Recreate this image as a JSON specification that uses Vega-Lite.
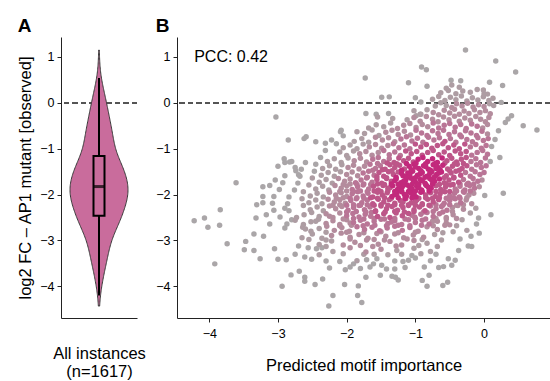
{
"$schema": "https://vega.github.io/schema/vega-lite/v6.json",
"padding": {"left": 17, "top": 17, "right": 0, "bottom": 0},
"bounds": "flush",
"spacing": 40,
"config": {
  "font": "Liberation Sans",
  "view": {"stroke": null},
  "axis": {"grid": false, "domainColor": "#222", "tickColor": "#222", "labelColor": "#000", "titleColor": "#000", "labelFontSize": 12.5, "titleFontSize": 16.5, "titleFontWeight": "normal", "tickSize": 4, "labelPadding": 3},
  "title": {"anchor": "start", "frame": "bounds", "fontSize": 19, "fontWeight": "bold", "offset": 1, "color": "#000"}
},
"datasets": {"pts": [
{"x":-0.27,"y":1.15,"d":0},{"x":0.17,"y":0.91,"d":0},{"x":0.46,"y":0.67,"d":0},{"x":-0.91,"y":0.78,"d":0},{"x":-0.84,"y":0.72,"d":0},{"x":-1.73,"y":0.54,"d":0},{"x":-1.1,"y":0.44,"d":0},{"x":-0.83,"y":0.36,"d":0},{"x":-0.48,"y":0.49,"d":0},{"x":-0.34,"y":0.48,"d":0},{"x":0.08,"y":0.45,"d":0},{"x":0.27,"y":0.38,"d":0},{"x":-1.49,"y":0.12,"d":0},{"x":-1.38,"y":0.13,"d":0},{"x":-1.0,"y":0.11,"d":0},{"x":-0.92,"y":0.02,"d":0},{"x":0.25,"y":0.01,"d":0},
{"x":-0.55,"y":0.32,"d":1},{"x":-0.47,"y":0.39,"d":1},{"x":-0.36,"y":0.34,"d":1},{"x":-0.01,"y":0.28,"d":1},{"x":0.05,"y":0.19,"d":1},
{"x":-3.03,"y":-0.31,"d":0},{"x":-2.85,"y":-0.81,"d":0},{"x":-2.62,"y":-0.78,"d":0},{"x":-2.59,"y":-0.74,"d":0},{"x":-2.45,"y":-0.85,"d":0},{"x":-2.31,"y":-0.88,"d":0},{"x":-2.22,"y":-0.81,"d":0},{"x":-2.09,"y":-0.63,"d":0},{"x":-2.05,"y":-0.72,"d":0},{"x":-1.72,"y":-0.23,"d":0},{"x":-1.57,"y":-0.25,"d":0},{"x":-1.39,"y":-0.23,"d":0},{"x":-2.91,"y":-1.22,"d":0},{"x":-2.8,"y":-1.28,"d":0},{"x":-2.75,"y":-1.41,"d":0},{"x":-2.9,"y":-1.3,"d":0},{"x":-2.74,"y":-1.48,"d":0},{"x":-2.7,"y":-1.57,"d":0},
{"x":-0.99,"y":-0.28,"d":1},{"x":-0.93,"y":-0.25,"d":1},
{"x":0.57,"y":-0.5,"d":0},{"x":0.77,"y":-0.59,"d":0},{"x":0.21,"y":-0.61,"d":0},{"x":0.31,"y":-0.43,"d":0},{"x":0.35,"y":-0.35,"d":0},{"x":0.4,"y":-0.28,"d":0},{"x":0.23,"y":-1.19,"d":0},{"x":0.09,"y":-1.28,"d":0},{"x":0.11,"y":-0.95,"d":0},{"x":0.28,"y":-1.97,"d":0},{"x":0.01,"y":-2.02,"d":0},{"x":0.16,"y":-0.8,"d":0},
{"x":0.1,"y":-2.44,"d":0},{"x":-0.07,"y":-2.84,"d":0},{"x":-0.11,"y":-2.64,"d":0},{"x":-0.08,"y":-2.51,"d":0},{"x":-0.19,"y":-2.91,"d":0},{"x":-0.18,"y":-3.13,"d":0},{"x":-0.23,"y":-3.12,"d":0},{"x":-0.37,"y":-3.22,"d":0},{"x":-0.42,"y":-3.43,"d":0},{"x":-0.47,"y":-3.54,"d":0},{"x":-0.52,"y":-3.4,"d":0},{"x":-0.59,"y":-3.57,"d":0},{"x":-0.66,"y":-3.59,"d":0},{"x":-0.53,"y":-3.91,"d":0},{"x":-0.6,"y":-3.98,"d":0},{"x":-0.8,"y":-3.76,"d":0},{"x":-0.83,"y":-4.0,"d":0},{"x":-0.9,"y":-3.87,"d":0},{"x":-0.87,"y":-3.58,"d":0},{"x":-1.1,"y":-3.43,"d":0},{"x":-1.0,"y":-3.38,"d":0},{"x":-1.05,"y":-3.33,"d":0},
{"x":-1.25,"y":-3.86,"d":0},{"x":-1.29,"y":-3.8,"d":0},{"x":-1.34,"y":-3.78,"d":0},{"x":-1.3,"y":-3.62,"d":0},{"x":-1.42,"y":-3.62,"d":0},{"x":-1.51,"y":-3.76,"d":0},{"x":-1.49,"y":-3.54,"d":0},{"x":-1.56,"y":-3.4,"d":0},{"x":-1.61,"y":-3.51,"d":0},{"x":-1.66,"y":-3.58,"d":0},{"x":-1.71,"y":-3.42,"d":0},{"x":-1.72,"y":-3.8,"d":0},{"x":-1.78,"y":-4.35,"d":0},{"x":-1.83,"y":-3.99,"d":0},{"x":-1.84,"y":-4.2,"d":0},{"x":-1.9,"y":-3.51,"d":0},{"x":-1.95,"y":-3.58,"d":0},{"x":-2.02,"y":-3.64,"d":0},{"x":-2.03,"y":-3.96,"d":0},{"x":-2.2,"y":-4.2,"d":0},{"x":-2.26,"y":-4.43,"d":0},{"x":-2.35,"y":-3.84,"d":0},{"x":-2.46,"y":-3.96,"d":0},{"x":-2.61,"y":-3.8,"d":0},{"x":-2.61,"y":-3.89,"d":0},{"x":-2.69,"y":-3.67,"d":0},{"x":-2.81,"y":-3.75,"d":0},{"x":-2.94,"y":-4.0,"d":0},{"x":-2.61,"y":-3.36,"d":0},{"x":-2.51,"y":-3.41,"d":0},{"x":-2.56,"y":-3.16,"d":0},{"x":-2.44,"y":-3.18,"d":0},{"x":-2.36,"y":-3.16,"d":0},{"x":-2.88,"y":-3.42,"d":0},{"x":-3.0,"y":-3.41,"d":0},{"x":-3.05,"y":-3.18,"d":0},{"x":-3.26,"y":-3.4,"d":0},{"x":-1.75,"y":-3.3,"d":1},{"x":-1.2,"y":-3.3,"d":1},
{"x":-4.22,"y":-2.57,"d":0},{"x":-4.07,"y":-2.51,"d":0},{"x":-4.02,"y":-2.71,"d":0},{"x":-3.84,"y":-2.33,"d":0},{"x":-3.85,"y":-2.67,"d":0},{"x":-3.74,"y":-3.07,"d":0},{"x":-3.92,"y":-3.51,"d":0},{"x":-3.47,"y":-3.02,"d":0},{"x":-3.49,"y":-3.2,"d":0},{"x":-3.35,"y":-2.86,"d":0},{"x":-3.35,"y":-3.22,"d":0},{"x":-3.32,"y":-2.51,"d":0},{"x":-3.31,"y":-2.22,"d":0},{"x":-3.22,"y":-2.04,"d":0},{"x":-3.22,"y":-2.18,"d":0},{"x":-3.22,"y":-1.83,"d":0},{"x":-3.12,"y":-1.8,"d":0},{"x":-3.04,"y":-1.68,"d":0},{"x":-3.17,"y":-2.44,"d":0},{"x":-3.61,"y":-1.74,"d":0},{"x":-3.21,"y":-2.91,"d":0},{"x":-3.12,"y":-2.64,"d":0},
{"x":-0.63,"y":0.22,"d":1},{"x":-0.52,"y":0.27,"d":1},{"x":-0.41,"y":0.2,"d":1},{"x":-0.31,"y":0.26,"d":1},{"x":-0.2,"y":0.23,"d":1},{"x":-0.1,"y":0.29,"d":1},{"x":0.0,"y":0.2,"d":1},
{"x":-0.75,"y":0.08,"d":1},{"x":-0.66,"y":0.14,"d":1},{"x":-0.57,"y":0.05,"d":1},{"x":-0.49,"y":0.12,"d":1},{"x":-0.41,"y":0.07,"d":1},{"x":-0.33,"y":0.15,"d":1},{"x":-0.25,"y":0.04,"d":1},{"x":-0.17,"y":0.11,"d":1},{"x":-0.09,"y":0.06,"d":1},{"x":-0.01,"y":0.13,"d":1},{"x":0.07,"y":0.05,"d":1},{"x":0.13,"y":0.1,"d":1},
{"x":-0.71,"y":-0.07,"d":1},{"x":-0.63,"y":0.0,"d":1},{"x":-0.55,"y":-0.06,"d":1},{"x":-0.47,"y":-0.1,"d":2},{"x":-0.4,"y":-0.02,"d":2},{"x":-0.32,"y":-0.07,"d":2},{"x":-0.24,"y":-0.01,"d":2},{"x":-0.16,"y":-0.09,"d":2},{"x":-0.08,"y":-0.04,"d":2},{"x":0.0,"y":-0.08,"d":2},{"x":0.08,"y":-0.02,"d":1},{"x":0.14,"y":-0.06,"d":1},
{"x":-1.02,"y":-0.17,"d":1},{"x":-0.92,"y":-0.25,"d":1},{"x":-0.83,"y":-0.15,"d":1},{"x":-0.74,"y":-0.21,"d":2},{"x":-0.66,"y":-0.26,"d":2},{"x":-0.58,"y":-0.16,"d":2},{"x":-0.5,"y":-0.22,"d":2},{"x":-0.43,"y":-0.14,"d":2},{"x":-0.36,"y":-0.25,"d":2},{"x":-0.29,"y":-0.18,"d":2},{"x":-0.22,"y":-0.23,"d":2},{"x":-0.14,"y":-0.15,"d":2},{"x":-0.06,"y":-0.21,"d":2},{"x":0.02,"y":-0.17,"d":2},{"x":0.09,"y":-0.24,"d":2},
{"x":-1.55,"y":-0.31,"d":1},{"x":-1.33,"y":-0.34,"d":1},{"x":-1.12,"y":-0.37,"d":1},{"x":-1.02,"y":-0.32,"d":2},{"x":-0.93,"y":-0.4,"d":2},{"x":-0.84,"y":-0.3,"d":2},{"x":-0.75,"y":-0.36,"d":2},{"x":-0.67,"y":-0.41,"d":2},{"x":-0.59,"y":-0.31,"d":2},{"x":-0.51,"y":-0.37,"d":2},{"x":-0.43,"y":-0.29,"d":2},{"x":-0.36,"y":-0.4,"d":2},{"x":-0.28,"y":-0.33,"d":2},{"x":-0.2,"y":-0.38,"d":2},{"x":-0.12,"y":-0.3,"d":2},{"x":-0.05,"y":-0.36,"d":2},{"x":0.02,"y":-0.41,"d":2},{"x":0.07,"y":-0.32,"d":2},
{"x":-1.68,"y":-0.55,"d":1},{"x":-1.57,"y":-0.48,"d":1},{"x":-1.46,"y":-0.52,"d":1},{"x":-1.36,"y":-0.44,"d":1},{"x":-1.26,"y":-0.56,"d":2},{"x":-1.17,"y":-0.49,"d":2},{"x":-1.08,"y":-0.45,"d":2},{"x":-0.99,"y":-0.54,"d":2},{"x":-0.9,"y":-0.47,"d":2},{"x":-0.82,"y":-0.52,"d":2},{"x":-0.74,"y":-0.44,"d":3},{"x":-0.66,"y":-0.55,"d":3},{"x":-0.58,"y":-0.49,"d":3},{"x":-0.5,"y":-0.45,"d":3},{"x":-0.42,"y":-0.53,"d":3},{"x":-0.34,"y":-0.47,"d":3},{"x":-0.26,"y":-0.56,"d":3},{"x":-0.18,"y":-0.46,"d":3},{"x":-0.1,"y":-0.51,"d":3},{"x":-0.02,"y":-0.55,"d":2},{"x":0.05,"y":-0.47,"d":2},
{"x":-2.08,"y":-0.6,"d":0},{"x":-1.85,"y":-0.63,"d":1},{"x":-1.74,"y":-0.67,"d":1},{"x":-1.63,"y":-0.59,"d":1},{"x":-1.53,"y":-0.71,"d":1},{"x":-1.43,"y":-0.64,"d":2},{"x":-1.34,"y":-0.6,"d":2},{"x":-1.25,"y":-0.69,"d":2},{"x":-1.16,"y":-0.62,"d":2},{"x":-1.07,"y":-0.7,"d":2},{"x":-0.99,"y":-0.6,"d":3},{"x":-0.91,"y":-0.66,"d":3},{"x":-0.83,"y":-0.71,"d":3},{"x":-0.75,"y":-0.61,"d":3},{"x":-0.67,"y":-0.67,"d":3},{"x":-0.59,"y":-0.6,"d":3},{"x":-0.51,"y":-0.69,"d":3},{"x":-0.43,"y":-0.63,"d":3},{"x":-0.35,"y":-0.7,"d":3},{"x":-0.27,"y":-0.61,"d":3},{"x":-0.19,"y":-0.66,"d":3},{"x":-0.11,"y":-0.71,"d":3},{"x":-0.03,"y":-0.62,"d":3},{"x":0.05,"y":-0.68,"d":2},
{"x":-1.89,"y":-0.84,"d":1},{"x":-1.78,"y":-0.78,"d":1},{"x":-1.68,"y":-0.86,"d":1},{"x":-1.58,"y":-0.75,"d":2},{"x":-1.48,"y":-0.81,"d":2},{"x":-1.39,"y":-0.76,"d":2},{"x":-1.3,"y":-0.85,"d":2},{"x":-1.21,"y":-0.79,"d":3},{"x":-1.13,"y":-0.74,"d":3},{"x":-1.05,"y":-0.83,"d":3},{"x":-0.97,"y":-0.77,"d":3},{"x":-0.89,"y":-0.86,"d":3},{"x":-0.81,"y":-0.75,"d":3},{"x":-0.73,"y":-0.81,"d":3},{"x":-0.65,"y":-0.76,"d":3},{"x":-0.57,"y":-0.84,"d":4},{"x":-0.49,"y":-0.78,"d":3},{"x":-0.41,"y":-0.86,"d":3},{"x":-0.33,"y":-0.74,"d":3},{"x":-0.25,"y":-0.8,"d":3},{"x":-0.17,"y":-0.85,"d":3},{"x":-0.09,"y":-0.76,"d":3},{"x":-0.01,"y":-0.82,"d":3},{"x":0.06,"y":-0.78,"d":3},
{"x":-2.15,"y":-0.89,"d":0},{"x":-2.05,"y":-0.98,"d":1},{"x":-1.95,"y":-0.92,"d":1},{"x":-1.85,"y":-1.0,"d":1},{"x":-1.76,"y":-0.9,"d":1},{"x":-1.67,"y":-0.96,"d":2},{"x":-1.58,"y":-0.91,"d":2},{"x":-1.49,"y":-0.99,"d":2},{"x":-1.4,"y":-0.93,"d":2},{"x":-1.32,"y":-0.89,"d":3},{"x":-1.24,"y":-0.98,"d":3},{"x":-1.16,"y":-0.92,"d":3},{"x":-1.08,"y":-1.0,"d":3},{"x":-1.0,"y":-0.9,"d":4},{"x":-0.92,"y":-0.96,"d":4},{"x":-0.84,"y":-0.91,"d":4},{"x":-0.76,"y":-0.99,"d":4},{"x":-0.68,"y":-0.93,"d":4},{"x":-0.6,"y":-0.89,"d":4},{"x":-0.52,"y":-0.98,"d":4},{"x":-0.44,"y":-0.92,"d":4},{"x":-0.36,"y":-1.0,"d":4},{"x":-0.28,"y":-0.9,"d":4},{"x":-0.2,"y":-0.96,"d":3},{"x":-0.12,"y":-0.91,"d":3},{"x":-0.04,"y":-0.99,"d":3},{"x":0.03,"y":-0.93,"d":3},
{"x":-2.31,"y":-1.04,"d":0},{"x":-2.1,"y":-1.07,"d":1},{"x":-2.0,"y":-1.15,"d":1},{"x":-1.9,"y":-1.05,"d":1},{"x":-1.81,"y":-1.11,"d":2},{"x":-1.72,"y":-1.06,"d":2},{"x":-1.63,"y":-1.14,"d":2},{"x":-1.54,"y":-1.08,"d":2},{"x":-1.46,"y":-1.04,"d":3},{"x":-1.38,"y":-1.13,"d":3},{"x":-1.3,"y":-1.07,"d":3},{"x":-1.22,"y":-1.15,"d":3},{"x":-1.14,"y":-1.05,"d":4},{"x":-1.06,"y":-1.11,"d":4},{"x":-0.98,"y":-1.06,"d":4},{"x":-0.9,"y":-1.14,"d":4},{"x":-0.82,"y":-1.08,"d":4},{"x":-0.74,"y":-1.04,"d":4},{"x":-0.66,"y":-1.13,"d":4},{"x":-0.58,"y":-1.07,"d":4},{"x":-0.5,"y":-1.15,"d":4},{"x":-0.42,"y":-1.05,"d":4},{"x":-0.34,"y":-1.11,"d":4},{"x":-0.26,"y":-1.06,"d":4},{"x":-0.18,"y":-1.14,"d":3},{"x":-0.1,"y":-1.08,"d":3},{"x":-0.02,"y":-1.04,"d":3},{"x":0.05,"y":-1.12,"d":3},
{"x":-2.83,"y":-1.29,"d":0},{"x":-2.6,"y":-1.3,"d":0},{"x":-2.38,"y":-1.19,"d":0},{"x":-2.28,"y":-1.28,"d":1},{"x":-2.18,"y":-1.22,"d":1},{"x":-2.08,"y":-1.3,"d":1},{"x":-1.98,"y":-1.2,"d":1},{"x":-1.89,"y":-1.26,"d":2},{"x":-1.8,"y":-1.21,"d":2},{"x":-1.71,"y":-1.29,"d":2},{"x":-1.62,"y":-1.23,"d":3},{"x":-1.54,"y":-1.19,"d":3},{"x":-1.46,"y":-1.28,"d":3},{"x":-1.38,"y":-1.22,"d":3},{"x":-1.31,"y":-1.3,"d":4},{"x":-1.24,"y":-1.2,"d":4},{"x":-1.17,"y":-1.26,"d":4},{"x":-1.1,"y":-1.21,"d":4},{"x":-1.03,"y":-1.29,"d":4},{"x":-0.96,"y":-1.23,"d":5},{"x":-0.89,"y":-1.19,"d":5},{"x":-0.82,"y":-1.28,"d":5},{"x":-0.75,"y":-1.22,"d":5},{"x":-0.68,"y":-1.3,"d":5},{"x":-0.61,"y":-1.2,"d":5},{"x":-0.54,"y":-1.26,"d":4},{"x":-0.47,"y":-1.21,"d":4},{"x":-0.4,"y":-1.29,"d":4},{"x":-0.33,"y":-1.23,"d":4},{"x":-0.26,"y":-1.19,"d":4},{"x":-0.19,"y":-1.28,"d":3},{"x":-0.12,"y":-1.22,"d":3},{"x":-0.05,"y":-1.3,"d":3},{"x":0.02,"y":-1.2,"d":3},
{"x":-3.0,"y":-1.38,"d":0},{"x":-2.66,"y":-1.45,"d":0},{"x":-2.45,"y":-1.34,"d":0},{"x":-2.35,"y":-1.43,"d":1},{"x":-2.25,"y":-1.37,"d":1},{"x":-2.16,"y":-1.45,"d":1},{"x":-2.07,"y":-1.35,"d":1},{"x":-1.98,"y":-1.41,"d":2},{"x":-1.9,"y":-1.36,"d":2},{"x":-1.82,"y":-1.44,"d":2},{"x":-1.74,"y":-1.38,"d":2},{"x":-1.66,"y":-1.34,"d":3},{"x":-1.58,"y":-1.43,"d":3},{"x":-1.51,"y":-1.37,"d":3},{"x":-1.44,"y":-1.45,"d":4},{"x":-1.37,"y":-1.35,"d":4},{"x":-1.3,"y":-1.41,"d":4},{"x":-1.23,"y":-1.36,"d":4},{"x":-1.16,"y":-1.44,"d":4},{"x":-1.09,"y":-1.38,"d":5},{"x":-1.02,"y":-1.34,"d":5},{"x":-0.95,"y":-1.43,"d":5},{"x":-0.88,"y":-1.37,"d":5},{"x":-0.81,"y":-1.45,"d":5},{"x":-0.74,"y":-1.35,"d":5},{"x":-0.67,"y":-1.41,"d":5},{"x":-0.6,"y":-1.36,"d":5},{"x":-0.53,"y":-1.44,"d":4},{"x":-0.46,"y":-1.38,"d":4},{"x":-0.39,"y":-1.34,"d":4},{"x":-0.32,"y":-1.43,"d":4},{"x":-0.25,"y":-1.37,"d":4},{"x":-0.18,"y":-1.45,"d":3},{"x":-0.11,"y":-1.35,"d":3},{"x":-0.04,"y":-1.41,"d":3},{"x":0.03,"y":-1.37,"d":3},{"x":-1.0,"y":-1.4,"d":5},{"x":-0.85,"y":-1.39,"d":5},{"x":-0.7,"y":-1.43,"d":5},
{"x":-2.9,"y":-1.59,"d":0},{"x":-2.68,"y":-1.6,"d":0},{"x":-2.47,"y":-1.49,"d":0},{"x":-2.37,"y":-1.58,"d":1},{"x":-2.27,"y":-1.52,"d":1},{"x":-2.18,"y":-1.6,"d":1},{"x":-2.09,"y":-1.5,"d":1},{"x":-2.0,"y":-1.56,"d":2},{"x":-1.92,"y":-1.51,"d":2},{"x":-1.84,"y":-1.59,"d":2},{"x":-1.76,"y":-1.53,"d":3},{"x":-1.68,"y":-1.49,"d":3},{"x":-1.6,"y":-1.58,"d":3},{"x":-1.53,"y":-1.52,"d":4},{"x":-1.46,"y":-1.6,"d":4},{"x":-1.39,"y":-1.5,"d":4},{"x":-1.32,"y":-1.56,"d":4},{"x":-1.25,"y":-1.51,"d":4},{"x":-1.18,"y":-1.59,"d":5},{"x":-1.11,"y":-1.53,"d":5},{"x":-1.04,"y":-1.49,"d":5},{"x":-0.97,"y":-1.58,"d":5},{"x":-0.9,"y":-1.52,"d":5},{"x":-0.83,"y":-1.6,"d":5},{"x":-0.76,"y":-1.5,"d":5},{"x":-0.69,"y":-1.56,"d":5},{"x":-0.62,"y":-1.51,"d":5},{"x":-0.55,"y":-1.59,"d":4},{"x":-0.48,"y":-1.53,"d":4},{"x":-0.41,"y":-1.49,"d":4},{"x":-0.34,"y":-1.58,"d":4},{"x":-0.27,"y":-1.52,"d":3},{"x":-0.2,"y":-1.6,"d":3},{"x":-0.13,"y":-1.5,"d":3},{"x":-0.06,"y":-1.56,"d":3},{"x":0.0,"y":-1.52,"d":3},{"x":-1.08,"y":-1.56,"d":5},{"x":-0.93,"y":-1.55,"d":5},{"x":-0.79,"y":-1.54,"d":5},{"x":-0.66,"y":-1.53,"d":5},{"x":-1.2,"y":-1.54,"d":5},
{"x":-2.93,"y":-1.74,"d":0},{"x":-2.71,"y":-1.75,"d":0},{"x":-2.5,"y":-1.64,"d":1},{"x":-2.4,"y":-1.73,"d":1},{"x":-2.3,"y":-1.67,"d":1},{"x":-2.21,"y":-1.75,"d":1},{"x":-2.12,"y":-1.65,"d":2},{"x":-2.03,"y":-1.71,"d":2},{"x":-1.95,"y":-1.66,"d":2},{"x":-1.87,"y":-1.74,"d":3},{"x":-1.79,"y":-1.68,"d":3},{"x":-1.71,"y":-1.64,"d":3},{"x":-1.63,"y":-1.73,"d":3},{"x":-1.56,"y":-1.67,"d":4},{"x":-1.49,"y":-1.75,"d":4},{"x":-1.42,"y":-1.65,"d":4},{"x":-1.35,"y":-1.71,"d":4},{"x":-1.28,"y":-1.66,"d":5},{"x":-1.21,"y":-1.74,"d":5},{"x":-1.14,"y":-1.68,"d":5},{"x":-1.07,"y":-1.64,"d":5},{"x":-1.0,"y":-1.73,"d":5},{"x":-0.93,"y":-1.67,"d":5},{"x":-0.86,"y":-1.75,"d":5},{"x":-0.79,"y":-1.65,"d":5},{"x":-0.72,"y":-1.71,"d":5},{"x":-0.65,"y":-1.66,"d":5},{"x":-0.58,"y":-1.74,"d":4},{"x":-0.51,"y":-1.68,"d":4},{"x":-0.44,"y":-1.64,"d":4},{"x":-0.37,"y":-1.73,"d":4},{"x":-0.3,"y":-1.67,"d":3},{"x":-0.23,"y":-1.75,"d":3},{"x":-0.16,"y":-1.65,"d":3},{"x":-0.09,"y":-1.71,"d":3},{"x":-0.03,"y":-1.68,"d":2},{"x":-1.17,"y":-1.71,"d":5},{"x":-1.03,"y":-1.69,"d":5},{"x":-0.9,"y":-1.7,"d":5},{"x":-0.76,"y":-1.69,"d":5},{"x":-1.3,"y":-1.7,"d":5},
{"x":-2.98,"y":-1.89,"d":0},{"x":-2.76,"y":-1.9,"d":0},{"x":-2.55,"y":-1.79,"d":1},{"x":-2.45,"y":-1.88,"d":1},{"x":-2.35,"y":-1.82,"d":1},{"x":-2.26,"y":-1.9,"d":1},{"x":-2.17,"y":-1.8,"d":2},{"x":-2.08,"y":-1.86,"d":2},{"x":-2.0,"y":-1.81,"d":2},{"x":-1.92,"y":-1.89,"d":3},{"x":-1.84,"y":-1.83,"d":3},{"x":-1.76,"y":-1.79,"d":3},{"x":-1.68,"y":-1.88,"d":3},{"x":-1.61,"y":-1.82,"d":4},{"x":-1.54,"y":-1.9,"d":4},{"x":-1.47,"y":-1.8,"d":4},{"x":-1.4,"y":-1.86,"d":4},{"x":-1.33,"y":-1.81,"d":5},{"x":-1.26,"y":-1.89,"d":5},{"x":-1.19,"y":-1.83,"d":5},{"x":-1.12,"y":-1.79,"d":5},{"x":-1.05,"y":-1.88,"d":5},{"x":-0.98,"y":-1.82,"d":5},{"x":-0.91,"y":-1.9,"d":5},{"x":-0.84,"y":-1.8,"d":5},{"x":-0.77,"y":-1.86,"d":5},{"x":-0.7,"y":-1.81,"d":4},{"x":-0.63,"y":-1.89,"d":4},{"x":-0.56,"y":-1.83,"d":4},{"x":-0.49,"y":-1.79,"d":4},{"x":-0.42,"y":-1.88,"d":3},{"x":-0.35,"y":-1.82,"d":3},{"x":-0.28,"y":-1.9,"d":3},{"x":-0.21,"y":-1.8,"d":3},{"x":-0.14,"y":-1.86,"d":3},{"x":-0.07,"y":-1.83,"d":2},{"x":-1.22,"y":-1.86,"d":5},{"x":-1.08,"y":-1.84,"d":5},{"x":-0.95,"y":-1.85,"d":5},{"x":-0.81,"y":-1.84,"d":5},{"x":-1.37,"y":-1.85,"d":4},
{"x":-3.06,"y":-2.04,"d":0},{"x":-2.84,"y":-2.05,"d":0},{"x":-2.63,"y":-1.94,"d":1},{"x":-2.53,"y":-2.03,"d":1},{"x":-2.43,"y":-1.97,"d":1},{"x":-2.34,"y":-2.05,"d":1},{"x":-2.25,"y":-1.95,"d":2},{"x":-2.16,"y":-2.01,"d":2},{"x":-2.08,"y":-1.96,"d":2},{"x":-2.0,"y":-2.04,"d":2},{"x":-1.92,"y":-1.98,"d":3},{"x":-1.84,"y":-1.94,"d":3},{"x":-1.76,"y":-2.03,"d":3},{"x":-1.69,"y":-1.97,"d":3},{"x":-1.62,"y":-2.05,"d":4},{"x":-1.55,"y":-1.95,"d":4},{"x":-1.48,"y":-2.01,"d":4},{"x":-1.41,"y":-1.96,"d":4},{"x":-1.34,"y":-2.04,"d":5},{"x":-1.27,"y":-1.98,"d":5},{"x":-1.2,"y":-1.94,"d":5},{"x":-1.13,"y":-2.03,"d":5},{"x":-1.06,"y":-1.97,"d":5},{"x":-0.99,"y":-2.05,"d":5},{"x":-0.92,"y":-1.95,"d":5},{"x":-0.85,"y":-2.01,"d":4},{"x":-0.78,"y":-1.96,"d":4},{"x":-0.71,"y":-2.04,"d":4},{"x":-0.64,"y":-1.98,"d":4},{"x":-0.57,"y":-1.94,"d":4},{"x":-0.5,"y":-2.03,"d":3},{"x":-0.43,"y":-1.97,"d":3},{"x":-0.36,"y":-2.05,"d":3},{"x":-0.29,"y":-1.95,"d":3},{"x":-0.22,"y":-2.01,"d":2},{"x":-0.15,"y":-1.97,"d":2},{"x":-1.16,"y":-2.0,"d":5},{"x":-1.02,"y":-1.99,"d":5},{"x":-1.3,"y":-2.0,"d":5},
{"x":-3.08,"y":-2.19,"d":0},{"x":-2.86,"y":-2.2,"d":0},{"x":-2.65,"y":-2.09,"d":1},{"x":-2.55,"y":-2.18,"d":1},{"x":-2.45,"y":-2.12,"d":1},{"x":-2.36,"y":-2.2,"d":1},{"x":-2.27,"y":-2.1,"d":2},{"x":-2.18,"y":-2.16,"d":2},{"x":-2.1,"y":-2.11,"d":2},{"x":-2.02,"y":-2.19,"d":2},{"x":-1.94,"y":-2.13,"d":3},{"x":-1.86,"y":-2.09,"d":3},{"x":-1.78,"y":-2.18,"d":3},{"x":-1.7,"y":-2.12,"d":3},{"x":-1.62,"y":-2.2,"d":4},{"x":-1.54,"y":-2.1,"d":4},{"x":-1.46,"y":-2.16,"d":4},{"x":-1.38,"y":-2.11,"d":4},{"x":-1.3,"y":-2.19,"d":4},{"x":-1.22,"y":-2.13,"d":4},{"x":-1.14,"y":-2.09,"d":4},{"x":-1.06,"y":-2.18,"d":4},{"x":-0.98,"y":-2.12,"d":4},{"x":-0.9,"y":-2.2,"d":4},{"x":-0.82,"y":-2.1,"d":4},{"x":-0.74,"y":-2.16,"d":4},{"x":-0.66,"y":-2.11,"d":4},{"x":-0.58,"y":-2.19,"d":3},{"x":-0.5,"y":-2.13,"d":3},{"x":-0.42,"y":-2.09,"d":3},{"x":-0.34,"y":-2.18,"d":3},{"x":-0.26,"y":-2.12,"d":2},{"x":-0.18,"y":-2.2,"d":2},{"x":-1.18,"y":-2.16,"d":4},{"x":-1.0,"y":-2.15,"d":4},
{"x":-3.06,"y":-2.34,"d":0},{"x":-2.84,"y":-2.35,"d":0},{"x":-2.63,"y":-2.24,"d":1},{"x":-2.53,"y":-2.33,"d":1},{"x":-2.43,"y":-2.27,"d":1},{"x":-2.34,"y":-2.35,"d":1},{"x":-2.25,"y":-2.25,"d":2},{"x":-2.16,"y":-2.31,"d":2},{"x":-2.07,"y":-2.26,"d":2},{"x":-1.98,"y":-2.34,"d":3},{"x":-1.9,"y":-2.28,"d":3},{"x":-1.82,"y":-2.24,"d":3},{"x":-1.74,"y":-2.33,"d":3},{"x":-1.66,"y":-2.27,"d":3},{"x":-1.58,"y":-2.35,"d":4},{"x":-1.5,"y":-2.25,"d":4},{"x":-1.42,"y":-2.31,"d":4},{"x":-1.34,"y":-2.26,"d":4},{"x":-1.26,"y":-2.34,"d":4},{"x":-1.18,"y":-2.28,"d":4},{"x":-1.1,"y":-2.24,"d":4},{"x":-1.02,"y":-2.33,"d":4},{"x":-0.94,"y":-2.27,"d":4},{"x":-0.86,"y":-2.35,"d":4},{"x":-0.78,"y":-2.25,"d":3},{"x":-0.7,"y":-2.31,"d":3},{"x":-0.62,"y":-2.26,"d":3},{"x":-0.54,"y":-2.34,"d":3},{"x":-0.46,"y":-2.28,"d":2},{"x":-0.38,"y":-2.24,"d":2},{"x":-0.3,"y":-2.32,"d":2},
{"x":-2.97,"y":-2.49,"d":0},{"x":-2.73,"y":-2.5,"d":1},{"x":-2.62,"y":-2.44,"d":1},{"x":-2.51,"y":-2.39,"d":1},{"x":-2.4,"y":-2.48,"d":1},{"x":-2.3,"y":-2.42,"d":2},{"x":-2.2,"y":-2.5,"d":2},{"x":-2.1,"y":-2.4,"d":2},{"x":-2.0,"y":-2.46,"d":3},{"x":-1.91,"y":-2.41,"d":3},{"x":-1.82,"y":-2.49,"d":3},{"x":-1.73,"y":-2.43,"d":3},{"x":-1.64,"y":-2.39,"d":3},{"x":-1.55,"y":-2.48,"d":4},{"x":-1.46,"y":-2.42,"d":4},{"x":-1.37,"y":-2.5,"d":4},{"x":-1.28,"y":-2.4,"d":4},{"x":-1.19,"y":-2.46,"d":4},{"x":-1.1,"y":-2.41,"d":4},{"x":-1.01,"y":-2.49,"d":3},{"x":-0.92,"y":-2.43,"d":3},{"x":-0.83,"y":-2.39,"d":3},{"x":-0.74,"y":-2.48,"d":3},{"x":-0.65,"y":-2.42,"d":3},{"x":-0.55,"y":-2.5,"d":2},{"x":-0.45,"y":-2.44,"d":2},
{"x":-2.87,"y":-2.64,"d":0},{"x":-2.75,"y":-2.56,"d":1},{"x":-2.63,"y":-2.65,"d":1},{"x":-2.52,"y":-2.59,"d":1},{"x":-2.41,"y":-2.54,"d":1},{"x":-2.3,"y":-2.63,"d":2},{"x":-2.2,"y":-2.57,"d":2},{"x":-2.1,"y":-2.65,"d":2},{"x":-2.0,"y":-2.55,"d":2},{"x":-1.9,"y":-2.61,"d":3},{"x":-1.8,"y":-2.56,"d":3},{"x":-1.7,"y":-2.64,"d":3},{"x":-1.6,"y":-2.58,"d":3},{"x":-1.5,"y":-2.54,"d":3},{"x":-1.4,"y":-2.63,"d":3},{"x":-1.3,"y":-2.57,"d":3},{"x":-1.2,"y":-2.65,"d":3},{"x":-1.1,"y":-2.55,"d":3},{"x":-1.0,"y":-2.61,"d":3},{"x":-0.9,"y":-2.56,"d":3},{"x":-0.8,"y":-2.64,"d":3},{"x":-0.68,"y":-2.58,"d":2},{"x":-0.55,"y":-2.62,"d":2},
{"x":-2.9,"y":-2.73,"d":0},{"x":-2.64,"y":-2.71,"d":1},{"x":-2.52,"y":-2.8,"d":1},{"x":-2.4,"y":-2.74,"d":1},{"x":-2.29,"y":-2.69,"d":2},{"x":-2.18,"y":-2.78,"d":2},{"x":-2.07,"y":-2.72,"d":2},{"x":-1.96,"y":-2.8,"d":2},{"x":-1.85,"y":-2.7,"d":3},{"x":-1.74,"y":-2.76,"d":3},{"x":-1.63,"y":-2.71,"d":3},{"x":-1.52,"y":-2.79,"d":3},{"x":-1.41,"y":-2.73,"d":3},{"x":-1.3,"y":-2.69,"d":3},{"x":-1.19,"y":-2.78,"d":3},{"x":-1.08,"y":-2.72,"d":3},{"x":-0.96,"y":-2.8,"d":2},{"x":-0.83,"y":-2.7,"d":2},{"x":-0.68,"y":-2.76,"d":2},
{"x":-2.65,"y":-2.94,"d":1},{"x":-2.5,"y":-2.86,"d":1},{"x":-2.36,"y":-2.95,"d":1},{"x":-2.22,"y":-2.89,"d":2},{"x":-2.08,"y":-2.84,"d":2},{"x":-1.95,"y":-2.93,"d":2},{"x":-1.82,"y":-2.87,"d":2},{"x":-1.69,"y":-2.95,"d":2},{"x":-1.56,"y":-2.85,"d":2},{"x":-1.43,"y":-2.91,"d":2},{"x":-1.3,"y":-2.86,"d":2},{"x":-1.17,"y":-2.94,"d":2},{"x":-1.03,"y":-2.88,"d":2},{"x":-0.88,"y":-2.93,"d":2},{"x":-0.72,"y":-2.87,"d":1},
{"x":-2.4,"y":-3.09,"d":1},{"x":-2.22,"y":-3.01,"d":1},{"x":-2.05,"y":-3.1,"d":2},{"x":-1.88,"y":-3.04,"d":2},{"x":-1.71,"y":-2.99,"d":2},{"x":-1.54,"y":-3.08,"d":2},{"x":-1.37,"y":-3.02,"d":2},{"x":-1.2,"y":-3.1,"d":2},{"x":-1.02,"y":-3.0,"d":2},{"x":-0.83,"y":-3.06,"d":1},
{"x":-2.2,"y":-3.24,"d":1},{"x":-1.95,"y":-3.16,"d":2},{"x":-1.72,"y":-3.25,"d":2},{"x":-1.5,"y":-3.19,"d":2},{"x":-1.27,"y":-3.22,"d":1},{"x":-1.02,"y":-3.17,"d":1},{"x":-0.78,"y":-3.24,"d":1},
{"x":-1.55,"y":-1.32,"d":3},{"x":-1.41,"y":-1.31,"d":4},{"x":-1.27,"y":-1.33,"d":4},{"x":-1.13,"y":-1.32,"d":5},{"x":-0.99,"y":-1.31,"d":5},{"x":-0.85,"y":-1.33,"d":5},{"x":-0.71,"y":-1.32,"d":5},{"x":-0.57,"y":-1.31,"d":4},{"x":-0.43,"y":-1.33,"d":4},{"x":-0.3,"y":-1.32,"d":4},
{"x":-1.62,"y":-1.47,"d":3},{"x":-1.48,"y":-1.46,"d":4},{"x":-1.34,"y":-1.48,"d":4},{"x":-1.2,"y":-1.47,"d":5},{"x":-1.06,"y":-1.46,"d":5},{"x":-0.92,"y":-1.48,"d":5},{"x":-0.78,"y":-1.47,"d":5},{"x":-0.64,"y":-1.46,"d":5},{"x":-0.5,"y":-1.48,"d":4},{"x":-0.36,"y":-1.47,"d":4},
{"x":-1.7,"y":-1.62,"d":3},{"x":-1.56,"y":-1.61,"d":4},{"x":-1.42,"y":-1.63,"d":4},{"x":-1.28,"y":-1.62,"d":5},{"x":-1.14,"y":-1.61,"d":5},{"x":-1.0,"y":-1.63,"d":5},{"x":-0.86,"y":-1.62,"d":5},{"x":-0.72,"y":-1.61,"d":5},{"x":-0.58,"y":-1.63,"d":4},{"x":-0.44,"y":-1.62,"d":4},
{"x":-2.05,"y":-1.78,"d":2},{"x":-1.95,"y":-1.77,"d":2},{"x":-1.85,"y":-1.78,"d":3},{"x":-1.75,"y":-1.77,"d":3},{"x":-1.65,"y":-1.78,"d":3},{"x":-1.55,"y":-1.77,"d":4},{"x":-1.45,"y":-1.78,"d":4},{"x":-1.35,"y":-1.77,"d":5},{"x":-1.25,"y":-1.78,"d":5},{"x":-1.15,"y":-1.77,"d":5},{"x":-1.05,"y":-1.78,"d":5},{"x":-0.95,"y":-1.77,"d":5},{"x":-0.85,"y":-1.78,"d":5},{"x":-0.75,"y":-1.77,"d":5},{"x":-0.65,"y":-1.78,"d":4},{"x":-0.55,"y":-1.77,"d":4},{"x":-0.45,"y":-1.78,"d":4},{"x":-0.35,"y":-1.77,"d":3},{"x":-0.25,"y":-1.78,"d":3},{"x":-0.15,"y":-1.77,"d":3},
{"x":-2.1,"y":-1.93,"d":2},{"x":-2.0,"y":-1.92,"d":2},{"x":-1.9,"y":-1.93,"d":3},{"x":-1.8,"y":-1.92,"d":3},{"x":-1.7,"y":-1.93,"d":3},{"x":-1.6,"y":-1.92,"d":4},{"x":-1.5,"y":-1.93,"d":4},{"x":-1.4,"y":-1.92,"d":4},{"x":-1.3,"y":-1.93,"d":5},{"x":-1.2,"y":-1.92,"d":5},{"x":-1.1,"y":-1.93,"d":5},{"x":-1.0,"y":-1.92,"d":5},{"x":-0.9,"y":-1.93,"d":5},{"x":-0.8,"y":-1.92,"d":5},{"x":-0.7,"y":-1.93,"d":4},{"x":-0.6,"y":-1.92,"d":4},{"x":-0.5,"y":-1.93,"d":4},{"x":-0.4,"y":-1.92,"d":3},{"x":-0.3,"y":-1.93,"d":3},{"x":-0.2,"y":-1.92,"d":3},
{"x":-2.15,"y":-2.08,"d":2},{"x":-2.05,"y":-2.07,"d":2},{"x":-1.95,"y":-2.08,"d":3},{"x":-1.85,"y":-2.07,"d":3},{"x":-1.75,"y":-2.08,"d":3},{"x":-1.65,"y":-2.07,"d":4},{"x":-1.55,"y":-2.08,"d":4},{"x":-1.45,"y":-2.07,"d":4},{"x":-1.35,"y":-2.08,"d":4},{"x":-1.25,"y":-2.07,"d":5},{"x":-1.15,"y":-2.08,"d":5},{"x":-1.05,"y":-2.07,"d":5},{"x":-0.95,"y":-2.08,"d":4},{"x":-0.85,"y":-2.07,"d":4},{"x":-0.75,"y":-2.08,"d":4},{"x":-0.65,"y":-2.07,"d":4},{"x":-0.55,"y":-2.08,"d":3},{"x":-0.45,"y":-2.07,"d":3},{"x":-0.35,"y":-2.08,"d":3},{"x":-0.25,"y":-2.07,"d":2},
{"x":-2.2,"y":-2.23,"d":2},{"x":-2.1,"y":-2.22,"d":2},{"x":-2.0,"y":-2.23,"d":3},{"x":-1.9,"y":-2.22,"d":3},{"x":-1.8,"y":-2.23,"d":3},{"x":-1.7,"y":-2.22,"d":3},{"x":-1.6,"y":-2.23,"d":4},{"x":-1.5,"y":-2.22,"d":4},{"x":-1.4,"y":-2.23,"d":4},{"x":-1.3,"y":-2.22,"d":4},{"x":-1.2,"y":-2.23,"d":4},{"x":-1.1,"y":-2.22,"d":4},{"x":-1.0,"y":-2.23,"d":4},{"x":-0.9,"y":-2.22,"d":4},{"x":-0.8,"y":-2.23,"d":4},{"x":-0.7,"y":-2.22,"d":3},{"x":-0.6,"y":-2.23,"d":3},{"x":-0.5,"y":-2.22,"d":3},{"x":-0.4,"y":-2.23,"d":2},{"x":-0.3,"y":-2.22,"d":2},
{"x":-2.0,"y":-2.38,"d":3},{"x":-1.86,"y":-2.37,"d":3},{"x":-1.72,"y":-2.38,"d":3},{"x":-1.58,"y":-2.37,"d":4},{"x":-1.44,"y":-2.38,"d":4},{"x":-1.3,"y":-2.37,"d":4},{"x":-1.16,"y":-2.38,"d":4},{"x":-1.02,"y":-2.37,"d":4},{"x":-0.88,"y":-2.38,"d":3},{"x":-0.74,"y":-2.37,"d":3},{"x":-0.6,"y":-2.38,"d":3},{"x":-0.46,"y":-2.37,"d":2},
{"x":-2.05,"y":-2.53,"d":2},{"x":-1.9,"y":-2.52,"d":3},{"x":-1.75,"y":-2.53,"d":3},{"x":-1.6,"y":-2.52,"d":3},{"x":-1.45,"y":-2.53,"d":3},{"x":-1.3,"y":-2.52,"d":3},{"x":-1.15,"y":-2.53,"d":3},{"x":-1.0,"y":-2.52,"d":3},{"x":-0.85,"y":-2.53,"d":3},{"x":-0.7,"y":-2.52,"d":2},{"x":-0.55,"y":-2.53,"d":2},{"x":-0.4,"y":-2.52,"d":2},
{"x":-2.1,"y":-2.68,"d":2},{"x":-1.93,"y":-2.67,"d":2},{"x":-1.76,"y":-2.68,"d":3},{"x":-1.59,"y":-2.67,"d":3},{"x":-1.42,"y":-2.68,"d":3},{"x":-1.25,"y":-2.67,"d":3},{"x":-1.08,"y":-2.68,"d":3},{"x":-0.91,"y":-2.67,"d":3},{"x":-0.74,"y":-2.68,"d":2},{"x":-0.57,"y":-2.67,"d":2},{"x":-0.4,"y":-2.68,"d":1},
{"x":-2.3,"y":-2.82,"d":1},{"x":-2.0,"y":-2.82,"d":2},{"x":-1.75,"y":-2.83,"d":2},{"x":-1.5,"y":-2.81,"d":2},{"x":-1.25,"y":-2.83,"d":2},{"x":-1.0,"y":-2.82,"d":2},{"x":-0.6,"y":-2.83,"d":1},{"x":-0.45,"y":-2.81,"d":1},
{"x":-2.55,"y":-2.98,"d":1},{"x":-2.3,"y":-2.99,"d":1},{"x":-1.95,"y":-2.97,"d":2},{"x":-1.6,"y":-2.98,"d":2},{"x":-1.45,"y":-2.99,"d":2},{"x":-1.12,"y":-2.97,"d":2},{"x":-0.9,"y":-2.98,"d":1},{"x":-0.62,"y":-2.99,"d":1},{"x":-0.35,"y":-2.97,"d":0},
{"x":-2.7,"y":-3.12,"d":0},{"x":-2.3,"y":-3.13,"d":1},{"x":-1.8,"y":-3.11,"d":2},{"x":-1.62,"y":-3.13,"d":2},{"x":-1.28,"y":-3.12,"d":2},{"x":-0.95,"y":-3.11,"d":1},{"x":-0.68,"y":-3.13,"d":1},
{"x":-2.75,"y":-3.3,"d":0},{"x":-2.4,"y":-3.31,"d":1},{"x":-2.05,"y":-3.29,"d":1},{"x":-1.6,"y":-3.3,"d":1},{"x":-1.4,"y":-3.31,"d":1},{"x":-0.92,"y":-3.29,"d":1},{"x":-0.7,"y":-3.3,"d":0},
{"x":-2.3,"y":-3.45,"d":0},{"x":-2.1,"y":-3.46,"d":0},{"x":-1.85,"y":-3.44,"d":1},{"x":-1.3,"y":-3.45,"d":0},{"x":-1.18,"y":-3.46,"d":0},{"x":-0.78,"y":-3.44,"d":0},
{"x":-2.25,"y":-3.6,"d":0},{"x":-1.8,"y":-3.61,"d":0},{"x":-1.15,"y":-3.59,"d":0},
{"x":-2.45,"y":-2.58,"d":1},{"x":-2.25,"y":-2.47,"d":2},{"x":-1.95,"y":-2.62,"d":2},{"x":-1.65,"y":-2.47,"d":3},{"x":-1.35,"y":-2.6,"d":3},{"x":-1.05,"y":-2.45,"d":3},{"x":-0.75,"y":-2.58,"d":2},{"x":-0.5,"y":-2.66,"d":2},{"x":-0.32,"y":-2.55,"d":1},{"x":-2.6,"y":-2.75,"d":1},{"x":-0.25,"y":-2.78,"d":1},{"x":-2.8,"y":-2.55,"d":0},{"x":-0.2,"y":-2.4,"d":1},{"x":-2.9,"y":-2.3,"d":0},{"x":-0.12,"y":-2.3,"d":1}
]},
"hconcat": [
 {
  "width": 76, "height": 281,
  "title": {"text": "A"},
  "layer": [
   {"data": {"name": "pts"},
    "mark": {"type": "rule", "strokeDash": [5, 3.5], "color": "#555", "strokeWidth": 1.2},
    "encoding": {"y": {"datum": 0, "type": "quantitative", "scale": {"domain": [-4.69, 1.435], "nice": false}, "title": "log2 FC – AP1 mutant [observed]"}}},
   {"data": {"name": "pts"},
    "transform": [{"density": "y", "as": ["value", "density"]}],
    "mark": {"type": "area", "orient": "horizontal", "fill": "#c96c9c", "stroke": "#3a3a3a", "strokeWidth": 1},
    "encoding": {
      "y": {"field": "value", "type": "quantitative", "scale": {"domain": [-4.69, 1.435], "nice": false},
            "title": "log2 FC – AP1 mutant [observed]",
            "axis": {"values": [-4, -3, -2, -1, 0, 1], "titlePadding": 6}},
      "x": {"field": "density", "type": "quantitative", "stack": "center", "scale": {"nice": false, "padding": 9},
            "axis": {"labels": false, "ticks": false, "title": ["All instances", "(n=1617)"], "titlePadding": 27, "titleLineHeight": 18}}
    }},
   {"data": {"name": "pts"},
    "mark": {"type": "boxplot", "extent": 1.4, "outliers": false, "size": 11,
             "box": {"fill": "#c96c9c", "stroke": "#000", "strokeWidth": 2},
             "median": {"color": "#000", "thickness": 3},
             "rule": {"color": "#000", "strokeWidth": 2}},
    "encoding": {"y": {"field": "y", "type": "quantitative", "scale": {"domain": [-4.69, 1.435], "nice": false}, "title": "log2 FC – AP1 mutant [observed]"}}}
  ]
 },
 {
  "width": 373, "height": 281,
  "title": {"text": "B"},
  "layer": [
   {"data": {"name": "pts"},
    "mark": {"type": "rule", "strokeDash": [5, 3.5], "color": "#555", "strokeWidth": 1.2},
    "encoding": {"y": {"datum": 0, "type": "quantitative", "scale": {"domain": [-4.69, 1.435], "nice": false}, "title": null}}},
   {"data": {"name": "pts"},
    "mark": {"type": "circle", "size": 30, "opacity": 1},
    "encoding": {
      "x": {"field": "x", "type": "quantitative", "scale": {"domain": [-4.47, 0.96], "nice": false},
            "axis": {"values": [-4, -3, -2, -1, 0], "format": "d", "title": "Predicted motif importance", "titlePadding": 18, "labelPadding": 5}},
      "y": {"field": "y", "type": "quantitative", "scale": {"domain": [-4.69, 1.435], "nice": false},
            "axis": {"values": [-4, -3, -2, -1, 0, 1], "title": null}},
      "color": {"field": "d", "type": "quantitative", "legend": null,
                "scale": {"domain": [0, 1, 2, 3, 4, 5], "range": ["#aaa6a8", "#ae9da3", "#b48c9d", "#b97596", "#bd5689", "#c2297c"]}},
      "order": {"field": "d", "type": "quantitative"}
    }},
   {"data": {"values": [{"t": "PCC: 0.42"}]},
    "mark": {"type": "text", "align": "left", "baseline": "middle", "fontSize": 16, "color": "#000"},
    "encoding": {"x": {"datum": -4.22, "type": "quantitative"}, "y": {"datum": 1.0, "type": "quantitative"}, "text": {"field": "t"}}}
  ]
 }
]
}
